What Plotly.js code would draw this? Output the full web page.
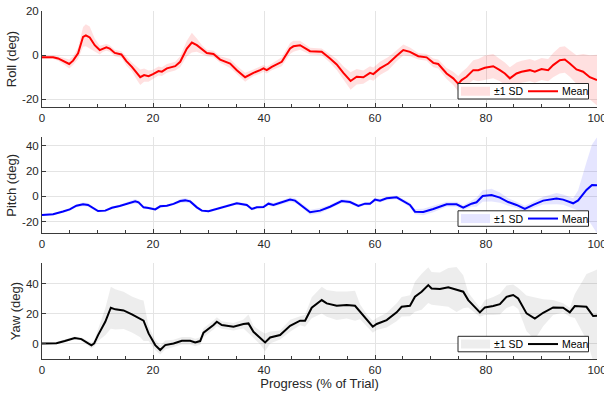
<!DOCTYPE html>
<html>
<head>
<meta charset="utf-8">
<script src="https://cdn.plot.ly/plotly-3.0.1.min.js"></script>
<style>html,body{margin:0;padding:0;background:#fff;}#chart{width:604px;height:398px;}</style>
</head>
<body>
<div id="chart"></div>
<script>
// ---- Data ----
const rollX = [0,1,2,2.9,4,4.9,5.6,6.5,7.4,7.9,8.6,9.5,10.4,11,11.6,12.2,13.1,14.3,15.2,16.2,17.1,17.7,18.4,19.2,20,21,21.6,22.5,24,24.9,26.1,27,27.9,28.8,29.7,30.9,32.1,33.9,35.1,36.6,38.1,39.3,39.9,40.5,41.4,43.2,44.7,45.3,46.5,48.3,50.4,51.9,53.1,54.3,55.6,56.7,57.9,59.1,59.7,60.9,62.4,63.9,65.1,66.3,67.8,69.3,70.5,71.4,72.9,74.1,75,75.6,76.5,77.7,78.6,79.8,81.3,82.5,83.4,84.3,85.5,86.4,87.9,88.8,90,91.2,92.1,93.3,94.2,95.1,96.3,97.5,98.7,100];
const rollMean = [-0.9,-0.9,-1.0,-1.5,-2.8,-4.0,-2.5,0.8,8.3,9.0,8.0,4.5,2.3,3.0,3.5,3.0,1.0,0.3,-2.7,-5.3,-8.3,-10,-9,-9.5,-8.6,-7.2,-7.5,-6,-5,-3,3,5.7,4.5,2.6,1.0,0.5,-2,-3.8,-6.8,-10,-8,-6.8,-6,-6.8,-5.3,-3,3,4,4.5,1.8,1.5,-1.5,-4.2,-8,-11.7,-9.8,-10,-8,-8.6,-6,-3.8,-0.3,2.3,1.5,-0.5,-1,-3.5,-4,-8.3,-10.5,-13,-11.3,-9.8,-6.8,-6.8,-5.7,-5,-6.8,-8.3,-10.5,-8.3,-7.5,-6.8,-7.5,-6.3,-6.8,-4.5,-2.3,-2,-3.8,-6.5,-7.5,-10,-11.3];
const rollSD = [0.8,0.8,0.8,1,1.5,2,2,2.5,4.5,5,5,3,2,1.5,1.5,1.5,1.5,1.5,2,2,3,3.5,3,2.5,2,2,2,2,2,2.5,3.5,4.5,3,2,1.5,1.5,1.5,2,2,2,1.5,1.5,1.5,1.5,1.5,2,2.5,2.5,2,1.5,1.5,2,2.5,3,4,3.5,3,3,3,3,3,2.5,2.5,2,1.5,1.5,2,2,2.5,3,3.5,3.5,4,4.5,5,5.5,5.5,5,5,5,5,5,5,5,5,5,5.5,6,6,6,6.5,8,10,11.5];

const pitchX = [0,2,3.8,5,6.2,7.4,8.3,9.2,10.1,11.4,12.6,14,15.6,16.8,17.4,18.3,19.2,20.4,21.3,22.5,23.7,24.9,25.8,26.7,27.9,28.8,30,31.5,33.3,35.1,36.9,37.8,38.7,39.9,40.8,41.7,43.2,44.7,45.6,46.5,48.3,50.1,51.9,54,55.5,57,58.2,59.1,60,60.9,62.1,63.9,65.1,66.3,67.2,68.7,70.5,72.9,74.7,75.9,77.4,78.3,79.4,81,82.5,84,85.5,87,88.5,90.3,92.7,93.9,95.7,96.6,98.1,99.1,100];
const pitchMean = [-14.7,-14.2,-12,-10.3,-7.4,-6.3,-6.8,-9.5,-11.6,-11.3,-9,-7.6,-5.3,-4,-4.7,-8.7,-9.2,-10.3,-7.9,-7.4,-6,-3.7,-3.2,-4,-8.7,-11.3,-11.8,-10,-7.9,-5.5,-6.8,-10,-8.7,-8.4,-5.8,-6.8,-4.7,-2.6,-3.4,-6.3,-12.6,-11.3,-8.2,-3.7,-4.5,-7.6,-5.8,-5.8,-2.6,-3.4,-1.6,-0.8,-3.7,-6.8,-12.1,-12.4,-10,-6.3,-6.3,-9,-5.8,-4.7,0.3,1,-1,-4.5,-6.8,-10,-6.8,-3.4,-1.8,-2.6,-5.5,-3.2,5,9,8.7];
const pitchSD = [0.8,0.8,1,1,1.2,1.5,1.5,1.2,1,1,1,1,1.2,1.8,1.5,1.2,1,1,1.2,1,1,1.5,1.8,1.5,1.2,1,1,1,1,1.2,1.2,1.2,1,1.2,1.5,1.5,1.5,1.8,1.8,1.5,2,2,1.5,1.5,1.5,1.2,1.2,1.2,1.5,1.5,1.5,1.5,1.5,2,2,2.5,2.5,2,2,2,2.5,3.5,4.5,5,4,3,2.5,2.5,2.5,3,4.5,4,4,8,22,32,38];

const yawX = [0,2.6,4.1,5.9,7.1,8.3,8.9,9.4,10.1,11.4,12.4,13.2,14.7,16.2,17.7,18.3,19.2,20.4,21.3,22.2,23.7,25.2,26.7,27.6,28.5,29.1,30.9,31.5,32.4,34.5,36.3,37.2,38.1,39.3,40.2,41.1,42.9,44.7,46.5,47.4,48.6,50.4,51.3,53.1,54.9,56.4,57.3,58.5,59.6,60.3,62.1,63.9,64.8,66.3,67.2,68.4,69.6,70.2,71.7,73.2,74.7,75.9,76.8,78,78.9,79.8,81.3,82.5,83.7,84.9,85.8,87.3,88.8,90.3,92.1,93.9,95.1,96,97.5,98.1,99.3,100];
const yawMean = [0.2,0.4,1.8,3.8,3.1,0.2,-1.1,0.2,5.8,14.7,24.1,23,22.3,19.6,16.9,15.4,6.9,-0.9,-4.2,-0.9,0.2,2,2,0.9,1.8,7.4,12.5,14.7,12.5,11.4,13.2,13.6,8,4.2,0.9,4.2,5.8,12,15.4,15.4,24.1,29.2,27,25.4,25.9,25.4,21.4,15.8,11.4,13.2,15.8,21,24.7,25.4,31.4,34.8,39.2,37,36.6,37.7,36.3,34.8,29.2,24.7,21,24.3,25.2,26.5,31.4,32.6,30.3,20.3,16.9,20.7,24.3,24.1,21,25.2,24.7,24.7,18.5,18.7];
const yawSD = [0.8,0.8,1,1,1,1.5,2,2,4,9,14,13.5,12.5,12,12.5,13.5,5,3.5,3,3,2.5,2.5,2.5,2.5,2.5,3,3,3,2.5,2.5,3,6,4,4.5,6,4,3,4,3,4,7,9,9,9.5,9,10,5,4,4,4,5,6,6.5,7,10,12,12,11,11,13,15,11,5,4,3,5,6,7,7.5,7,7,12,14,9,5,3,3,8,18,22,30,31];

const xTicks = [0,20,40,60,80,100];
const rollTicks = [-20,0,20];
const pitchTicks = [-20,0,20,40];
const yawTicks = [0,20,40];
const titles = {roll: 'Roll (deg)', pitch: 'Pitch (deg)', yaw: 'Yaw (deg)', x: 'Progress (% of Trial)'};
const legendNames = ['±1 SD', 'Mean'];

// ---- Styles ----
const FONT = 'Liberation Sans, Arial, Helvetica, sans-serif';
const axisColor = '#3a3a3a';
const gridColor = '#e4e4e4';
const series = [
  {line: '#ff0000', band: 'rgba(255,0,0,0.12)'},
  {line: '#0000ff', band: 'rgba(0,0,255,0.10)'},
  {line: '#000000', band: 'rgba(0,0,0,0.07)'}
];

// ---- Build traces ----
function band(xs, m, sd, xa, ya, color) {
  const up = xs.map((_, i) => m[i] + sd[i]);
  const lo = xs.map((_, i) => m[i] - sd[i]);
  return {
    x: xs.concat(xs.slice().reverse()),
    y: up.concat(lo.slice().reverse()),
    xaxis: xa, yaxis: ya, type: 'scatter', mode: 'lines',
    fill: 'toself', fillcolor: color, line: {width: 0, color: color},
    name: legendNames[0], showlegend: false, hoverinfo: 'skip'
  };
}
function meanLine(xs, m, xa, ya, color) {
  return {x: xs, y: m, xaxis: xa, yaxis: ya, type: 'scatter', mode: 'lines',
    line: {color: color, width: 2}, name: legendNames[1], showlegend: false};
}
const traces = [
  band(rollX, rollMean, rollSD, 'x', 'y', series[0].band),
  meanLine(rollX, rollMean, 'x', 'y', series[0].line),
  band(pitchX, pitchMean, pitchSD, 'x2', 'y2', series[1].band),
  meanLine(pitchX, pitchMean, 'x2', 'y2', series[1].line),
  band(yawX, yawMean, yawSD, 'x3', 'y3', series[2].band),
  meanLine(yawX, yawMean, 'x3', 'y3', series[2].line)
];

function xax(anchor, withTitle) {
  const a = {
    anchor: anchor, domain: [0, 1], range: [0, 100], tickvals: xTicks,
    ticktext: xTicks.map(String), ticks: 'inside', ticklen: 4, tickcolor: axisColor,
    showline: true, linecolor: axisColor, linewidth: 1, showgrid: true, gridcolor: gridColor,
    zeroline: false, tickfont: {size: 11.5, color: '#262626', family: FONT},
    ticklabeloverflow: 'allow',
    minor: {dtick: 5, tick0: 0, ticks: 'inside', ticklen: 3, tickcolor: axisColor, showgrid: false}
  };
  if (withTitle) a.title = {text: titles.x, font: {size: 13, color: '#262626', family: FONT}, standoff: 4};
  return a;
}
function yax(anchor, dom, rng, tv, title) {
  return {
    anchor: anchor, domain: dom, range: rng, tickvals: tv, ticktext: tv.map(String),
    ticks: 'inside', ticklen: 4, tickcolor: axisColor,
    showline: true, linecolor: axisColor, linewidth: 1, showgrid: true, gridcolor: gridColor,
    zeroline: false, tickfont: {size: 11.5, color: '#262626', family: FONT},
    title: {text: title, font: {size: 13, color: '#262626', family: FONT}, standoff: 2}
  };
}

// ---- Legends drawn as boxes (pixel positions converted to paper) ----
const M = {l: 42, r: 7, t: 11, b: 39}, W = 604, H = 398;
const px = v => (v - M.l) / (W - M.l - M.r);
const py = v => (H - M.b - v) / (H - M.t - M.b);
const shapes = [], annotations = [];
[83.5, 210.8, 336.3].forEach((top, k) => {
  const h = 15.5, cy = top + h / 2;
  shapes.push({type: 'rect', xref: 'paper', yref: 'paper', x0: px(458), x1: px(588.5), y0: py(top + h), y1: py(top),
    fillcolor: '#ffffff', line: {color: '#262626', width: 1}});
  shapes.push({type: 'rect', xref: 'paper', yref: 'paper', x0: px(461), x1: px(490), y0: py(cy + 4.5), y1: py(cy - 4.5),
    fillcolor: series[k].band, line: {width: 0}});
  shapes.push({type: 'line', xref: 'paper', yref: 'paper', x0: px(528), x1: px(558), y0: py(cy), y1: py(cy),
    line: {color: series[k].line, width: 2}});
  annotations.push({xref: 'paper', yref: 'paper', x: px(493), y: py(cy), xanchor: 'left', yanchor: 'middle',
    text: legendNames[0], showarrow: false, font: {size: 10.5, color: '#000', family: FONT}, borderpad: 0});
  annotations.push({xref: 'paper', yref: 'paper', x: px(560.5), y: py(cy), xanchor: 'left', yanchor: 'middle',
    text: legendNames[1], showarrow: false, font: {size: 10.5, color: '#000', family: FONT}, borderpad: 0});
});

const layout = {
  width: W, height: H,
  margin: M,
  paper_bgcolor: '#ffffff', plot_bgcolor: '#ffffff',
  font: {family: FONT, color: '#262626'},
  showlegend: false,
  xaxis: xax('y', false),
  xaxis2: xax('y2', false),
  xaxis3: xax('y3', true),
  yaxis: yax('x', [0.7241, 1], [-23.5, 20], rollTicks, titles.roll),
  yaxis2: yax('x2', [0.3612, 0.637], [-29.2, 46.6], pitchTicks, titles.pitch),
  yaxis3: yax('x3', [0, 0.275], [-10.2, 53.8], yawTicks, titles.yaw),
  shapes: shapes,
  annotations: annotations
};
Plotly.newPlot('chart', traces, layout, {displayModeBar: false, staticPlot: true});
</script>
</body>
</html>
